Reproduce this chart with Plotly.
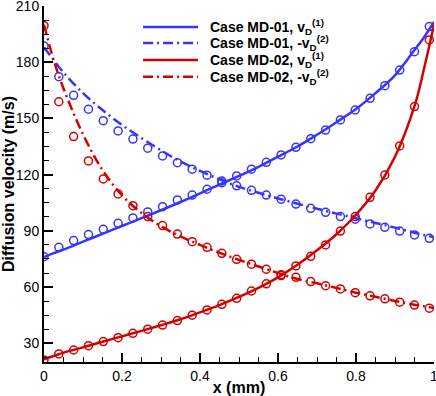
import plotly.graph_objects as go

# model curves (lines)
x_line = [0.0, 0.025, 0.05, 0.1, 0.15, 0.2, 0.25, 0.3, 0.35, 0.4, 0.45, 0.5,
          0.55, 0.6, 0.65, 0.7, 0.75, 0.8, 0.85, 0.9, 0.95, 0.975, 1.0]
md01_v1 = [76, 78.1, 80, 84.2, 88.4, 92.6, 96.8, 101, 105.4, 110, 114.7, 119.3,
           124.2, 129.6, 135, 141.3, 148, 155, 163.5, 173, 186.5, 193.5, 201.5]
md01_v2 = [188, 181, 174.5, 163.5, 154.5, 146.5, 139.5, 133, 127, 122, 117.5, 113.5,
           110.3, 107.3, 104.5, 101.8, 99.2, 96.7, 94.2, 91.7, 89, 87.8, 86.5]
md02_v1 = [21.5, 23.2, 25, 27.8, 30.8, 33.7, 36.6, 39.6, 42.8, 46.5, 50.4, 54.7,
           59.6, 65.2, 71.9, 79.6, 88.2, 98.6, 111.5, 129.5, 156.5, 177, 200]
md02_v2 = [200, 181, 166, 141.5, 122.5, 109, 99.5, 92.5, 87, 82.5, 78.3, 74.5,
           71, 67.5, 64.3, 62, 59.5, 57, 54.8, 52.6, 50.6, 49.7, 48.8]

# MD samples (open circles)
x_md = [0.0, 0.038, 0.076, 0.114, 0.152, 0.19, 0.228, 0.266, 0.304, 0.342, 0.38,
        0.418, 0.456, 0.494, 0.532, 0.57, 0.608, 0.646, 0.684, 0.722, 0.76,
        0.798, 0.836, 0.874, 0.912, 0.95, 0.988]
md01_v1_pts = [76.2, 81.2, 84.8, 88.0, 90.8, 94.0, 96.9, 100.1, 102.9, 106.5, 109.1,
               112.2, 115.7, 119.3, 122.9, 126.6, 130.5, 134.6, 139.2, 143.8, 149.2,
               154.5, 160.7, 167.5, 175.8, 185.6, 199.0]
md01_v2_pts = [188.7, 172.3, 162.3, 154.9, 148.8, 143.3, 139.0, 134.1, 130.0, 126.4, 122.9,
               119.7, 116.6, 114.0, 111.6, 109.1, 106.9, 104.3, 102.0, 99.9, 97.6,
               96.2, 93.7, 91.9, 89.9, 87.8, 86.0]
md02_v1_pts = [21.1, 24.3, 26.4, 28.7, 30.9, 33.0, 35.3, 37.5, 39.7, 42.1, 45.0,
               47.8, 50.8, 54.0, 57.9, 61.7, 66.1, 71.3, 76.4, 82.5, 89.9,
               97.6, 107.9, 119.8, 135.3, 156.3, 191.9]
md02_v2_pts = [199.5, 158.9, 140.3, 127.3, 117.7, 109.7, 103.4, 97.6, 92.8, 88.3, 84.2,
               81.2, 78.0, 74.8, 72.2, 69.5, 66.5, 65.2, 62.9, 60.7, 59.0,
               57.0, 55.3, 53.7, 51.9, 50.4, 48.7]

labels = [
    "<b>Case MD-01, v<sub>D</sub><sup>(1)</sup></b>",
    "<b>Case MD-01, -v<sub>D</sub><sup>(2)</sup></b>",
    "<b>Case MD-02, v<sub>D</sub><sup>(1)</sup></b>",
    "<b>Case MD-02, -v<sub>D</sub><sup>(2)</sup></b>",
]

BLUE = "#3535ff"
RED = "#d40000"
DASHDOT = "10px,4px,2px,4px"

series = [
    (labels[0], md01_v1, md01_v1_pts, BLUE, "solid"),
    (labels[1], md01_v2, md01_v2_pts, BLUE, DASHDOT),
    (labels[2], md02_v1, md02_v1_pts, RED, "solid"),
    (labels[3], md02_v2, md02_v2_pts, RED, DASHDOT),
]

fig = go.Figure()
for name, yl, yp, col, dash in series:
    fig.add_trace(go.Scatter(
        x=x_md, y=yp, mode="markers", showlegend=False,
        marker=dict(symbol="circle-open", size=8, color=col, line=dict(width=1.5, color=col)),
    ))
for name, yl, yp, col, dash in series:
    fig.add_trace(go.Scatter(
        x=x_line, y=yl, mode="lines", name=name, showlegend=False,
        line=dict(color=col, width=2.5, dash=dash, shape="spline"),
    ))

# hand-made legend (Tecplot style: long key lines, tight rows)
font = "Liberation Sans, Arial, sans-serif"
row_y = [0.941, 0.896, 0.848, 0.801]
for (name, yl, yp, col, dash), yy in zip(series, row_y):
    fig.add_shape(type="line", xref="paper", yref="paper",
                  x0=0.254, x1=0.395, y0=yy, y1=yy,
                  line=dict(color=col, width=2.5, dash=dash))
    fig.add_annotation(xref="paper", yref="paper", x=0.42, y=yy,
                       xanchor="left", yanchor="middle", showarrow=False,
                       text=name, font=dict(family=font, size=14, color="black"))

axis_common = dict(
    showline=True, linecolor="black", linewidth=2, mirror=False,
    ticks="inside", ticklen=9, tickwidth=2, tickcolor="black",
    showgrid=False, zeroline=False, automargin=False, ticklabeloverflow="allow",
    tickfont=dict(family=font, size=14, color="black"),
)
fig.update_xaxes(
    range=[0, 1], dtick=0.2, tick0=0,
    minor=dict(dtick=0.05, ticks="inside", ticklen=5, tickwidth=1, tickcolor="black"),
    title=dict(text="<b>x (mm)</b>", font=dict(family=font, size=16, color="black"), standoff=2),
    **axis_common,
)
fig.update_yaxes(
    range=[20, 210], dtick=30, tick0=30,
    minor=dict(dtick=7.5, ticks="inside", ticklen=5, tickwidth=1, tickcolor="black"),
    title=dict(text="<b>Diffusion velocity (m/s)</b>", font=dict(family=font, size=16, color="black"), standoff=2),
    **axis_common,
)
fig.update_layout(
    width=436, height=396,
    margin=dict(l=44, r=2, t=6, b=34),
    plot_bgcolor="white", paper_bgcolor="white",
    font=dict(family=font, size=14, color="black"),
    showlegend=False,
)

fig.write_html("out.html", config={"displayModeBar": False},
               post_script="document.body.style.margin='0';")
